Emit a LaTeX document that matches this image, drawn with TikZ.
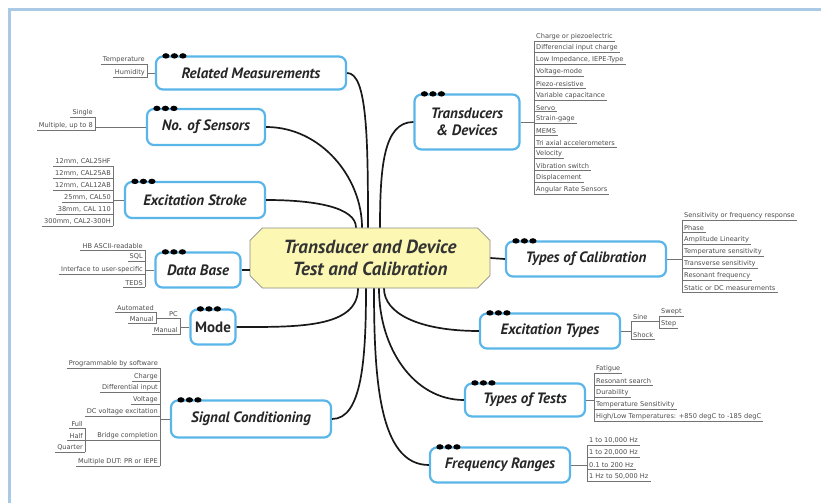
\documentclass[tikz,border=0pt]{standalone}
\usepackage{fontspec}
\setmainfont{PT Sans}
\newfontfamily\leaffont{DejaVu Sans}
\usetikzlibrary{shapes.misc, positioning}

\definecolor{framecol}{HTML}{A9C9E4}
\definecolor{branchcol}{HTML}{5AB6E8}
\definecolor{hubfill}{HTML}{FCF8B4}

\tikzstyle{hub} = [chamfered rectangle, chamfered rectangle xsep=9pt, minimum width=240pt, minimum height=60pt, draw=black!45, line width=0.8pt, fill=hubfill, align=center, text=black!80, font=\fontsize{19}{22}\selectfont\bfseries\itshape]
\tikzstyle{branch} = [rectangle, rounded corners=7pt, draw=branchcol, line width=2.2pt, fill=white, align=center, text=black!85, font=\fontsize{15}{17}\selectfont\bfseries\itshape, inner sep=2pt]
\tikzstyle{leafl} = [anchor=south east, inner xsep=2pt, inner ysep=1.2pt, text=black!70, font=\leaffont\fontsize{6.6}{7}\selectfont]
\tikzstyle{leafr} = [leafl, anchor=south west]
\tikzstyle{uline} = [draw=black!55, line width=0.6pt]
\tikzstyle{spoke} = [line width=1.7pt, black!90]

\newcommand{\branchdots}[1]{%
  \foreach \k in {0,1,2}
    \fill ([xshift=11pt+\k*8.5pt, yshift=-0.5pt]#1.north west) ellipse (3.6 and 2.7);
}

\begin{document}
\begin{tikzpicture}[x=1pt, y=-1pt]
    \useasboundingbox (0,0) rectangle (821,503);
    \fill[white] (0,0) rectangle (821,503);
    \draw[framecol, line width=3pt] (9,503) -- (9,10) -- (821,10);

    % centre and main branches
    \node (hub) [hub] at (370,258) {Transducer and Device\\Test and Calibration};
    \node (rel) [branch, minimum width=190pt, minimum height=33pt] at (251,73) {Related Measurements};
    \node (sens) [branch, minimum width=118pt, minimum height=36pt] at (206,127) {No. of Sensors};
    \node (stroke) [branch, minimum width=140pt, minimum height=36pt] at (195,200) {Excitation Stroke};
    \node (db) [branch, minimum width=85pt, minimum height=35pt] at (198,270) {Data Base};
    \node (mode) [branch, minimum width=45pt, minimum height=35pt, font=\fontsize{15}{17}\selectfont\bfseries] at (213,327) {Mode};
    \node (sig) [branch, minimum width=160pt, minimum height=37pt] at (251,419) {Signal Conditioning};
    \node (trans) [branch, minimum width=105pt, minimum height=55pt] at (467,122) {Transducers\\\& Devices};
    \node (cal) [branch, minimum width=160pt, minimum height=35pt] at (586,259) {Types of Calibration};
    \node (ext) [branch, minimum width=140pt, minimum height=35pt] at (550,331) {Excitation Types};
    \node (tests) [branch, minimum width=120pt, minimum height=33pt] at (525,400) {Types of Tests};
    \node (freq) [branch, minimum width=140pt, minimum height=35pt] at (500,465) {Frequency Ranges};

    \foreach \b in {rel,sens,stroke,db,mode,sig,trans,cal,ext,tests,freq}
        \branchdots{\b};

    % spokes
    \draw[spoke] (rel.east) .. controls +(20,0) and +(0,-90) .. ([xshift=-2pt]hub.north);
    \draw[spoke] (sens.east) .. controls +(55,0) and +(0,-50) .. ([xshift=-8pt]hub.north);
    \draw[spoke] (stroke.east) .. controls +(50,0) and +(0,-20) .. ([xshift=-14pt]hub.north);
    \draw[spoke] (trans.west) .. controls +(-30,0) and +(0,-60) .. ([xshift=10pt]hub.north);
    \draw[spoke] (db.east) -- (db.east -| hub.west);
    \draw[spoke] (hub.east) -- (cal.west);
    \draw[spoke] (mode.east) .. controls +(60,0) and +(0,40) .. ([xshift=-12pt]hub.south);
    \draw[spoke] (sig.east) .. controls +(30,0) and +(0,70) .. ([xshift=-4pt]hub.south);
    \draw[spoke] (freq.west) .. controls +(-50,0) and +(0,90) .. ([xshift=4pt]hub.south);
    \draw[spoke] (tests.west) .. controls +(-50,0) and +(0,60) .. ([xshift=9pt]hub.south);
    \draw[spoke] (ext.west) .. controls +(-60,0) and +(0,25) .. ([xshift=14pt]hub.south);

    % Related Measurements
    \node (temp) [leafl] at (147,64) {Temperature};
    \node (hum) [leafl] at (147,77) {Humidity};
    \draw[uline] (temp.south west) -- (temp.south east) -- (hum.south east) -- (hum.south west);
    \draw[uline] (rel.west) -- (rel.west -| hum.south east);

    % No. of Sensors
    \node (single) [leafl] at (95,117) {Single};
    \node (multi) [leafl] at (95,130) {Multiple, up to 8};
    \draw[uline] (single.south west) -- (single.south east) -- (multi.south east) -- (multi.south west);
    \draw[uline] (sens.west) -- (sens.west -| multi.south east);

    % Excitation Stroke
    \foreach \t [count=\i] in {{12mm, CAL25HF}, {12mm, CAL25AB}, {12mm, CAL12AB}, {25mm, CAL50}, {38mm, CAL 110}, {300mm, CAL2-300H}}
        \node (st\i) [leafl] at (113,154+12*\i) {\t};
    \foreach \i in {1,...,6}
        \draw[uline] (st\i.south west) -- (st\i.south east);
    \draw[uline] (st1.south east) -- (st6.south east);
    \draw[uline] (stroke.west) -- (stroke.west -| st1.south east);

    % Data Base
    \foreach \t/\y [count=\i] in {HB ASCII-readable/250, SQL/261, Interface to user-specific/274, TEDS/287}
        \node (dbi\i) [leafl] at (145,\y) {\t};
    \foreach \i in {1,...,4}
        \draw[uline] (dbi\i.south west) -- (dbi\i.south east);
    \draw[uline] (dbi1.south east) -- (dbi4.south east);
    \draw[uline] (db.west) -- (db.west -| dbi1.south east);

    % Mode
    \node (auto) [leafl] at (156,312) {Automated};
    \node (man) [leafl] at (156,323) {Manual};
    \node (pc) [leafl] at (180,318) {PC};
    \node (mantwo) [leafl] at (180,334) {Manual};
    \draw[uline] (auto.south west) -- (auto.south east) -- (man.south east) -- (man.south west);
    \draw[uline] (pc.south east) -- (pc.south east -| auto.south east);
    \draw[uline] (mantwo.south west) -- (mantwo.south east) -- (pc.south east);
    \draw[uline] (mode.west) -- (mode.west -| pc.south east);

    % Signal Conditioning
    \foreach \t/\y [count=\i] in {Programmable by software/368, Charge/381, Differential input/392, Voltage/404, DC voltage excitation/416, Bridge completion/440, Multiple DUT: PR or IEPE/466}
        \node (sc\i) [leafl] at (160,\y) {\t};
    \foreach \i in {1,...,7}
        \draw[uline] (sc\i.south west) -- (sc\i.south east);
    \draw[uline] (sc1.south east) -- (sc7.south east);
    \draw[uline] (sig.west) -- (sig.west -| sc1.south east);
    \foreach \t/\y [count=\i] in {Full/428, Half/440, Quarter/452}
        \node (br\i) [leafl] at (85,\y) {\t};
    \foreach \i in {1,2,3}
        \draw[uline] (br\i.south west) -- (br\i.south east);
    \draw[uline] (br1.south east) -- (br3.south east);
    \draw[uline] (br2.south east) -- (sc6.south west);

    % Transducers & Devices
    \foreach \t [count=\i from 0] in {Charge or piezoelectric, Differencial input charge, {Low Impedance, IEPE-Type}, Voltage-mode, Piezo-resistive, Variable capacitance, Servo, Strain-gage, MEMS, Tri axial accelerometers, Velocity, Vibration switch, Displacement, Angular Rate Sensors}
        \node (td\i) [leafr] at (534,41+11.77*\i) {\t};
    \foreach \i in {0,...,13}
        \draw[uline] (td\i.south west) -- (td\i.south east);
    \draw[uline] (td0.south west) -- (td13.south west);
    \draw[uline] (trans.east) -- (trans.east -| td0.south west);

    % Types of Calibration
    \foreach \t [count=\i from 0] in {Sensitivity or frequency response, Phase, Amplitude Linearity, Temperature sensitivity, Transverse sensitivity, Resonant frequency, Static or DC measurements}
        \node (tc\i) [leafr] at (682,220+12*\i) {\t};
    \foreach \i in {0,...,6}
        \draw[uline] (tc\i.south west) -- (tc\i.south east);
    \draw[uline] (tc0.south west) -- (tc6.south west);
    \draw[uline] (cal.east) -- (cal.east -| tc0.south west);

    % Excitation Types
    \node (sine) [leafr] at (631,321) {Sine};
    \node (shock) [leafr] at (631,339) {Shock};
    \node (swept) [leafr] at (659,316) {Swept};
    \node (stepsig) [leafr] at (659,328) {Step};
    \draw[uline] (sine.south east) -- (sine.south west) -- (shock.south west) -- (shock.south east);
    \draw[uline] (sine.south east) -- (sine.south east -| swept.south west);
    \draw[uline] (swept.south east) -- (swept.south west) -- (stepsig.south west) -- (stepsig.south east);
    \draw[uline] (ext.east) -- (ext.east -| sine.south west);

    % Types of Tests
    \foreach \t [count=\i from 0] in {Fatigue, Resonant search, Durability, Temperature Sensitivity, High/Low Temperatures: +850 degC to -185 degC}
        \node (tt\i) [leafr] at (594,373+12*\i) {\t};
    \foreach \i in {0,...,4}
        \draw[uline] (tt\i.south west) -- (tt\i.south east);
    \draw[uline] (tt0.south west) -- (tt4.south west);
    \draw[uline] (tests.east) -- (tests.east -| tt0.south west);

    % Frequency Ranges
    \foreach \t [count=\i from 0] in {{1 to 10,000 Hz}, {1 to 20,000 Hz}, 0.1 to 200 Hz, {1 Hz to 50,000 Hz}}
        \node (fr\i) [leafr] at (587,445+12*\i) {\t};
    \foreach \i in {0,...,3}
        \draw[uline] (fr\i.south west) -- (fr\i.south east);
    \draw[uline] (fr0.south west) -- (fr3.south west);
    \draw[uline] (freq.east) -- (freq.east -| fr0.south west);

\end{tikzpicture}
\end{document}
